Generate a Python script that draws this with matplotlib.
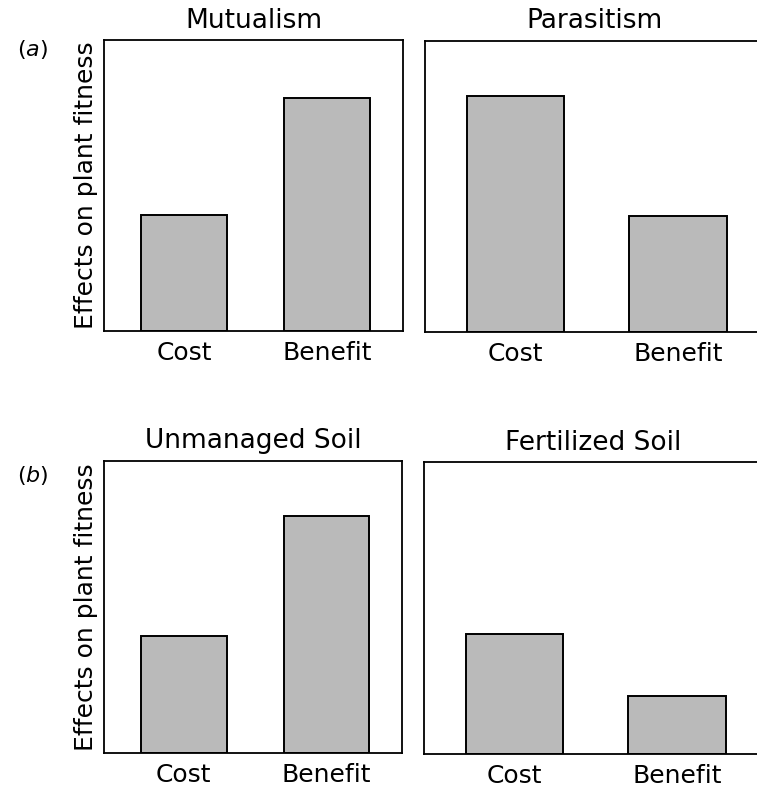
import matplotlib
matplotlib.use("Agg")
import matplotlib.pyplot as plt

# Data (arbitrary units, axis top = 1)
categories = ["Cost", "Benefit"]
titles = ["Mutualism", "Parasitism", "Unmanaged Soil", "Fertilized Soil"]
mutualism = [0.40, 0.80]
parasitism = [0.81, 0.40]
unmanaged = [0.40, 0.81]
fertilized = [0.41, 0.20]
panel_values = [mutualism, parasitism, unmanaged, fertilized]

plt.rcParams["font.family"] = "DejaVu Sans"

fig = plt.figure(figsize=(7.57, 7.91), dpi=100)
W, H = 757, 791

# axes boxes in pixels: left, top, width, height
boxes = [
    (104, 40, 299, 291),
    (425, 41, 339, 291),
    (104, 461, 298, 292),
    (424, 462, 339, 292),
]

for i, (box, title, vals) in enumerate(zip(boxes, titles, panel_values)):
    l, t, w, h = box
    ax = fig.add_axes([l / W, 1 - (t + h) / H, w / W, h / H])
    ax.bar(range(len(categories)), vals, width=0.6, color="#bababa",
           edgecolor="black", linewidth=1.4)
    ax.set_xlim(-0.56, 1.53)
    ax.set_ylim(0, 1)
    ax.set_yticks([])
    ax.set_xticks(range(len(categories)))
    ax.set_xticklabels(categories, fontsize=18)
    ax.tick_params(axis="x", length=0, pad=7)
    ax.set_title(title, fontsize=19, pad=9)
    for sp in ax.spines.values():
        sp.set_linewidth(1.3)
    if i % 2 == 0:
        ax.set_ylabel("Effects on plant fitness", fontsize=18, labelpad=4)

fig.text(17 / W, 1 - 56 / H, r"($\mathit{a}$)", fontsize=16, va="baseline")
fig.text(17 / W, 1 - 482 / H, r"($\mathit{b}$)", fontsize=16, va="baseline")

fig.savefig("out.png", dpi=100)
